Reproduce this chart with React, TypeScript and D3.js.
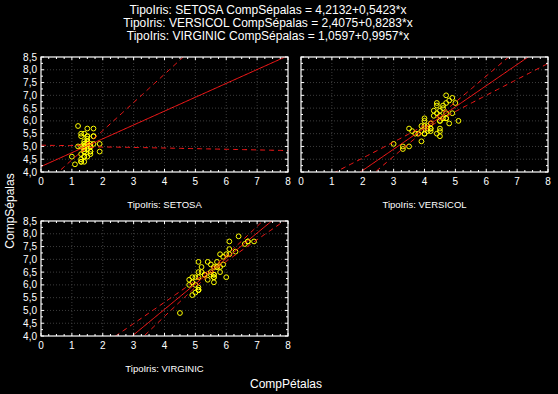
import React, { useEffect, useRef } from 'react';
import * as d3 from 'd3';

// comprimento da pétala (x) e da sépala (y) por espécie
const setosaPetal = [1.4, 1.4, 1.3, 1.5, 1.4, 1.7, 1.4, 1.5, 1.4, 1.5, 1.5, 1.6, 1.4, 1.1, 1.2, 1.5, 1.3, 1.4, 1.7, 1.5, 1.7, 1.5, 1.0, 1.7, 1.9, 1.6, 1.6, 1.5, 1.4, 1.6, 1.6, 1.5, 1.5, 1.4, 1.5, 1.2, 1.3, 1.4, 1.3, 1.5, 1.3, 1.3, 1.3, 1.6, 1.9, 1.4, 1.6, 1.4, 1.5, 1.4];
const setosaSepal = [5.1, 4.9, 4.7, 4.6, 5.0, 5.4, 4.6, 5.0, 4.4, 4.9, 5.4, 4.8, 4.8, 4.3, 5.8, 5.7, 5.4, 5.1, 5.7, 5.1, 5.4, 5.1, 4.6, 5.1, 4.8, 5.0, 5.0, 5.2, 5.2, 4.7, 4.8, 5.4, 5.2, 5.5, 4.9, 5.0, 5.5, 4.9, 4.4, 5.1, 5.0, 4.5, 4.4, 5.0, 5.1, 4.8, 5.1, 4.6, 5.3, 5.0];
const versicolPetal = [4.7, 4.5, 4.9, 4.0, 4.6, 4.5, 4.7, 3.3, 4.6, 3.9, 3.5, 4.2, 4.0, 4.7, 3.6, 4.4, 4.5, 4.1, 4.5, 3.9, 4.8, 4.0, 4.9, 4.7, 4.3, 4.4, 4.8, 5.0, 4.5, 3.5, 3.8, 3.7, 3.9, 5.1, 4.5, 4.5, 4.7, 4.4, 4.1, 4.0, 4.4, 4.6, 4.0, 3.3, 4.2, 4.2, 4.2, 4.3, 3.0, 4.1];
const versicolSepal = [7.0, 6.4, 6.9, 5.5, 6.5, 5.7, 6.3, 4.9, 6.6, 5.2, 5.0, 5.9, 6.0, 6.1, 5.6, 6.7, 5.6, 5.8, 6.2, 5.6, 5.9, 6.1, 6.3, 6.1, 6.4, 6.6, 6.8, 6.7, 6.0, 5.7, 5.5, 5.5, 5.8, 6.0, 5.4, 6.0, 6.7, 6.3, 5.6, 5.5, 5.5, 6.1, 5.8, 5.0, 5.6, 5.7, 5.7, 6.2, 5.1, 5.7];
const virginicPetal = [6.0, 5.1, 5.9, 5.6, 5.8, 6.6, 4.5, 6.3, 5.8, 6.1, 5.1, 5.3, 5.5, 5.0, 5.1, 5.3, 5.5, 6.7, 6.9, 5.0, 5.7, 4.9, 6.7, 4.9, 5.7, 6.0, 4.8, 4.9, 5.6, 5.8, 6.1, 6.4, 5.6, 5.1, 5.6, 6.1, 5.6, 5.5, 4.8, 5.4, 5.6, 5.1, 5.1, 5.9, 5.7, 5.2, 5.0, 5.2, 5.4, 5.1];
const virginicSepal = [6.3, 5.8, 7.1, 6.3, 6.5, 7.6, 4.9, 7.3, 6.7, 7.2, 6.5, 6.4, 6.8, 5.7, 5.8, 6.4, 6.5, 7.7, 7.7, 6.0, 6.9, 5.6, 7.7, 6.3, 6.7, 7.2, 6.2, 6.1, 6.4, 7.2, 7.4, 7.9, 6.4, 6.3, 6.1, 7.7, 6.3, 6.4, 6.0, 6.9, 6.7, 6.9, 5.8, 6.8, 6.7, 6.7, 6.3, 6.5, 6.2, 5.9];

const species = ['SETOSA', 'VERSICOL', 'VIRGINIC'];
const intercepts = [4.2132, 2.4075, 1.0597];
const slopes = [0.5423, 0.8283, 0.9957];
const xTicks = [0, 1, 2, 3, 4, 5, 6, 7, 8];
const yTicks = [4.0, 4.5, 5.0, 5.5, 6.0, 6.5, 7.0, 7.5, 8.0, 8.5];
const tCrit = 2.0106; // t(0,975; 48) -> banda de confiança 95%

const W = 558, H = 394;
const panelW = 247, panelH = 115;
const panels = [
  { left: 41, top: 57, x: setosaPetal, y: setosaSepal, yLabels: true },
  { left: 301, top: 57, x: versicolPetal, y: versicolSepal, yLabels: false },
  { left: 41, top: 221, x: virginicPetal, y: virginicSepal, yLabels: true },
];

const comma = (s: string) => s.replace('.', ',');

function App() {
  const ref = useRef<SVGSVGElement>(null);

  useEffect(() => {
    const svg = d3.select(ref.current);
    svg.selectAll('*').remove();
    const font = 'Arial, "Liberation Sans", sans-serif';

    svg.append('rect').attr('width', W).attr('height', H).attr('fill', '#000');

    // títulos
    species.forEach((sp, i) => {
      svg.append('text')
        .attr('x', 268)
        .attr('y', 14 + i * 13)
        .attr('text-anchor', 'middle')
        .attr('fill', '#fff')
        .style('font-family', font)
        .style('font-size', '12px')
        .text(`TipoIris: ${sp} CompSépalas = ${comma(intercepts[i].toFixed(4))}+${comma(slopes[i].toFixed(4))}*x`);
    });

    svg.append('text')
      .attr('transform', `translate(14,211) rotate(-90)`)
      .attr('text-anchor', 'middle')
      .attr('fill', '#fff')
      .style('font-family', font)
      .style('font-size', '12px')
      .text('CompSépalas');

    svg.append('text')
      .attr('x', 286)
      .attr('y', 388)
      .attr('text-anchor', 'middle')
      .attr('fill', '#fff')
      .style('font-family', font)
      .style('font-size', '12px')
      .text('CompPétalas');

    panels.forEach((p, i) => {
      const xScale = d3.scaleLinear().domain([0, 8]).range([0, panelW]);
      const yScale = d3.scaleLinear().domain([4, 8.5]).range([panelH, 0]);
      const g = svg.append('g').attr('transform', `translate(${p.left},${p.top})`);

      g.append('clipPath').attr('id', `clip${i}`)
        .append('rect').attr('width', panelW).attr('height', panelH);

      // grade
      g.selectAll('.gx').data(xTicks.slice(1, -1)).enter().append('line')
        .attr('x1', d => xScale(d)).attr('x2', d => xScale(d))
        .attr('y1', 0).attr('y2', panelH)
        .attr('stroke', '#3c3c3c').attr('stroke-dasharray', '1,2');
      g.selectAll('.gy').data(yTicks.slice(1, -1)).enter().append('line')
        .attr('y1', d => yScale(d)).attr('y2', d => yScale(d))
        .attr('x1', 0).attr('x2', panelW)
        .attr('stroke', '#3c3c3c').attr('stroke-dasharray', '1,2');

      // pontos
      g.selectAll('circle').data(p.x.map((v, k) => [v, p.y[k]])).enter().append('circle')
        .attr('cx', d => xScale(d[0]))
        .attr('cy', d => yScale(d[1]))
        .attr('r', 2.4)
        .attr('fill', 'none')
        .attr('stroke', '#ffff00')
        .attr('stroke-width', 1);

      // reta ajustada e bandas de confiança
      const a = intercepts[i], b = slopes[i];
      const n = p.x.length;
      const xm = d3.mean(p.x) as number;
      const sxx = d3.sum(p.x, v => (v - xm) ** 2);
      const sse = d3.sum(p.x, (v, k) => (p.y[k] - (a + b * v)) ** 2);
      const s = Math.sqrt(sse / (n - 2));
      const xs = d3.range(0, 8.0001, 0.04);
      const half = (x: number) => tCrit * s * Math.sqrt(1 / n + (x - xm) ** 2 / sxx);

      const lines = g.append('g').attr('clip-path', `url(#clip${i})`);
      const line = d3.line<number>().x(d => xScale(d));
      lines.append('path')
        .attr('d', line.y(d => yScale(a + b * d))(xs))
        .attr('fill', 'none').attr('stroke', '#ff1a1a').attr('stroke-width', 1);
      [1, -1].forEach(sign => {
        lines.append('path')
          .attr('d', d3.line<number>().x(d => xScale(d)).y(d => yScale(a + b * d + sign * half(d)))(xs))
          .attr('fill', 'none').attr('stroke', '#ff1a1a').attr('stroke-width', 1)
          .attr('stroke-dasharray', '5,4');
      });

      // moldura e marcas
      g.append('rect').attr('width', panelW).attr('height', panelH)
        .attr('fill', 'none').attr('stroke', '#fff').attr('stroke-width', 1.2);
      const minorX = d3.range(0, 8.001, 0.25);
      const minorY = d3.range(4, 8.501, 0.25);
      minorX.forEach(v => {
        const len = Number.isInteger(v) ? 3 : 2;
        g.append('line').attr('x1', xScale(v)).attr('x2', xScale(v)).attr('y1', panelH).attr('y2', panelH - len).attr('stroke', '#fff');
        g.append('line').attr('x1', xScale(v)).attr('x2', xScale(v)).attr('y1', 0).attr('y2', len).attr('stroke', '#fff');
      });
      minorY.forEach(v => {
        const len = Math.abs(v * 2 - Math.round(v * 2)) < 1e-6 ? 3 : 2;
        g.append('line').attr('y1', yScale(v)).attr('y2', yScale(v)).attr('x1', 0).attr('x2', len).attr('stroke', '#fff');
        g.append('line').attr('y1', yScale(v)).attr('y2', yScale(v)).attr('x1', panelW).attr('x2', panelW - len).attr('stroke', '#fff');
      });

      g.selectAll('.xl').data(xTicks).enter().append('text')
        .attr('x', d => xScale(d))
        .attr('y', panelH + 13)
        .attr('text-anchor', 'middle')
        .attr('fill', '#fff')
        .style('font-family', font)
        .style('font-size', '10px')
        .text(d => String(d));

      if (p.yLabels) {
        g.selectAll('.yl').data(yTicks).enter().append('text')
          .attr('x', -4)
          .attr('y', d => yScale(d) + 3.5)
          .attr('text-anchor', 'end')
          .attr('fill', '#fff')
          .style('font-family', font)
          .style('font-size', '10px')
          .text(d => comma(d.toFixed(1)));
      }

      g.append('text')
        .attr('x', panelW / 2)
        .attr('y', panelH + 36)
        .attr('text-anchor', 'middle')
        .attr('fill', '#fff')
        .style('font-family', font)
        .style('font-size', '9.5px')
        .text(`TipoIris: ${species[i]}`);
    });
  }, []);

  return (
    <svg ref={ref} width={W} height={H} style={{ position: 'absolute', left: 0, top: 0, display: 'block' }} />
  );
}

export default App;
